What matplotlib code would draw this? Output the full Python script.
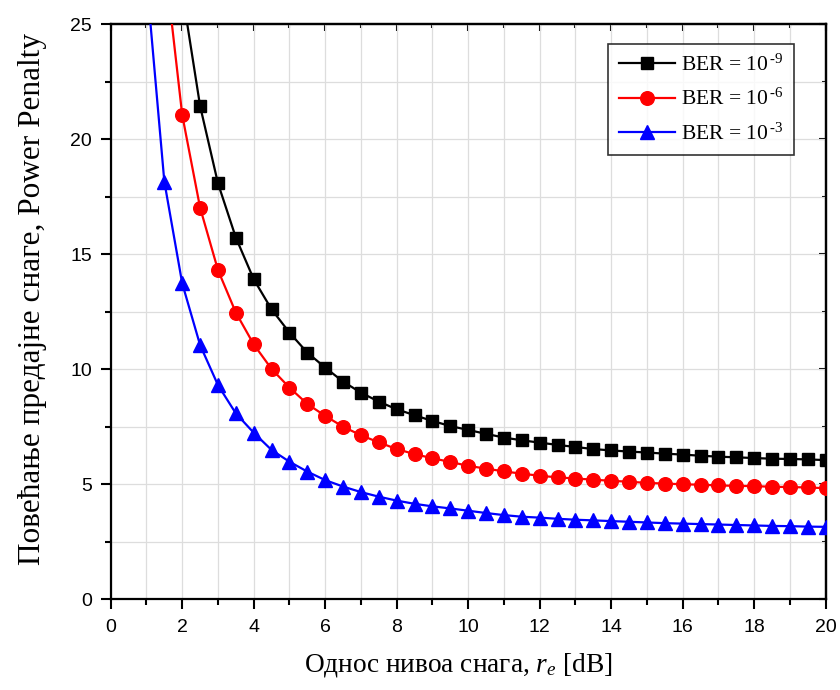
import matplotlib
matplotlib.use("Agg")
import matplotlib.pyplot as plt
from matplotlib.ticker import MultipleLocator

plt.rcParams["mathtext.fontset"] = "custom"
plt.rcParams["mathtext.rm"] = "Liberation Serif"
plt.rcParams["mathtext.it"] = "Liberation Serif:italic"

# extinction ratio r_e [dB]
re_ber9 = [2.0, 2.5, 3.0, 3.5, 4.0, 4.5, 5.0, 5.5, 6.0, 6.5, 7.0, 7.5, 8.0, 8.5,
           9.0, 9.5, 10.0, 10.5, 11.0, 11.5, 12.0, 12.5, 13.0, 13.5, 14.0, 14.5,
           15.0, 15.5, 16.0, 16.5, 17.0, 17.5, 18.0, 18.5, 19.0, 19.5, 20.0]
pp_ber9 = [26.4, 21.44, 18.08, 15.72, 13.91, 12.60, 11.59, 10.72, 10.07, 9.46,
           8.98, 8.59, 8.26, 8.00, 7.75, 7.53, 7.36, 7.19, 7.03, 6.91, 6.81,
           6.71, 6.62, 6.53, 6.47, 6.42, 6.38, 6.33, 6.29, 6.24, 6.20, 6.17,
           6.14, 6.11, 6.10, 6.08, 6.05]

re_ber6 = [1.5, 2.0, 2.5, 3.0, 3.5, 4.0, 4.5, 5.0, 5.5, 6.0, 6.5, 7.0, 7.5, 8.0,
           8.5, 9.0, 9.5, 10.0, 10.5, 11.0, 11.5, 12.0, 12.5, 13.0, 13.5, 14.0,
           14.5, 15.0, 15.5, 16.0, 16.5, 17.0, 17.5, 18.0, 18.5, 19.0, 19.5, 20.0]
pp_ber6 = [27.9, 21.05, 17.02, 14.31, 12.46, 11.08, 10.01, 9.20, 8.49, 7.97,
           7.50, 7.13, 6.82, 6.53, 6.31, 6.13, 5.97, 5.80, 5.68, 5.56, 5.46,
           5.37, 5.30, 5.25, 5.20, 5.15, 5.11, 5.06, 5.03, 5.00, 4.98, 4.95,
           4.93, 4.92, 4.89, 4.88, 4.86, 4.83]

re_ber3 = [1.0, 1.5, 2.0, 2.5, 3.0, 3.5, 4.0, 4.5, 5.0, 5.5, 6.0, 6.5, 7.0, 7.5,
           8.0, 8.5, 9.0, 9.5, 10.0, 10.5, 11.0, 11.5, 12.0, 12.5, 13.0, 13.5,
           14.0, 14.5, 15.0, 15.5, 16.0, 16.5, 17.0, 17.5, 18.0, 18.5, 19.0,
           19.5, 20.0]
pp_ber3 = [27.0, 18.15, 13.73, 11.05, 9.31, 8.08, 7.24, 6.49, 5.98, 5.55, 5.18,
           4.90, 4.66, 4.46, 4.29, 4.15, 4.04, 3.95, 3.85, 3.75, 3.66, 3.59,
           3.55, 3.50, 3.46, 3.43, 3.40, 3.37, 3.34, 3.31, 3.29, 3.27, 3.25,
           3.23, 3.21, 3.19, 3.18, 3.16, 3.15]

legend_labels = [r"BER = 10$^{\,\text{-9}}$", r"BER = 10$^{\,\text{-6}}$",
                 r"BER = 10$^{\,\text{-3}}$"]

fig = plt.figure(figsize=(8.4, 6.9), dpi=100)
ax = fig.add_axes([0.1318, 0.1314, 0.8512, 0.8338])

ax.plot(re_ber9, pp_ber9, color="black", lw=1.6, marker="s", ms=8.8,
        label=legend_labels[0], zorder=5)
ax.plot(re_ber6, pp_ber6, color="#ff0000", lw=1.6, marker="o", ms=9.8,
        label=legend_labels[1], zorder=4)
ax.plot(re_ber3, pp_ber3, color="#0000ff", lw=1.6, marker="^", ms=10.5,
        label=legend_labels[2], zorder=3)

ax.set_xlim(0, 20)
ax.set_ylim(0, 25)
ax.xaxis.set_major_locator(MultipleLocator(2))
ax.xaxis.set_minor_locator(MultipleLocator(1))
ax.yaxis.set_major_locator(MultipleLocator(5))
ax.yaxis.set_minor_locator(MultipleLocator(2.5))

ax.grid(True, which="both", color="#dddddd", lw=0.9, zorder=0)
ax.set_axisbelow(True)

for sp in ax.spines.values():
    sp.set_linewidth(1.6)

ax.tick_params(which="major", direction="out", length=7, width=1.5,
               labelsize=14)
ax.tick_params(axis="x", which="major", pad=7)
ax.tick_params(axis="y", which="major", pad=6.5)
ax.tick_params(which="minor", direction="out", length=4, width=1.5)
for lbl in ax.get_xticklabels() + ax.get_yticklabels():
    lbl.set_fontfamily("Liberation Sans")

# inward ticks on the top and right edges
top = ax.secondary_xaxis("top")
top.xaxis.set_major_locator(MultipleLocator(2))
top.xaxis.set_minor_locator(MultipleLocator(1))
top.tick_params(which="major", direction="in", length=5, width=1.5, labeltop=False)
top.tick_params(which="minor", direction="in", length=3, width=1.5)
top.spines["top"].set_linewidth(1.6)
right = ax.secondary_yaxis("right")
right.yaxis.set_major_locator(MultipleLocator(5))
right.yaxis.set_minor_locator(MultipleLocator(2.5))
right.tick_params(which="major", direction="in", length=5, width=1.5, labelright=False)
right.tick_params(which="minor", direction="in", length=3, width=1.5)
right.spines["right"].set_linewidth(1.6)

ax.set_xlabel(r"Однос нивоа снага, $r_e$ [dB]", fontfamily="Liberation Serif",
              fontsize=19.7, labelpad=11)
ax.xaxis.label.set_x(0.486)
ax.set_ylabel("Повећање предајне снаге, Power Penalty",
              fontfamily="Liberation Serif", fontsize=22.5, labelpad=17)
ax.yaxis.label.set_y(0.522)

leg = ax.legend(loc="upper left", bbox_to_anchor=(0.6955, 0.966),
                prop={"family": "Liberation Serif", "size": 15.5},
                frameon=True, fancybox=False, edgecolor="black",
                handlelength=2.6, handletextpad=0.3, labelspacing=0.62,
                borderpad=0.5, borderaxespad=0.0)
leg.get_frame().set_linewidth(1.2)

fig.savefig("out.png", dpi=100)
